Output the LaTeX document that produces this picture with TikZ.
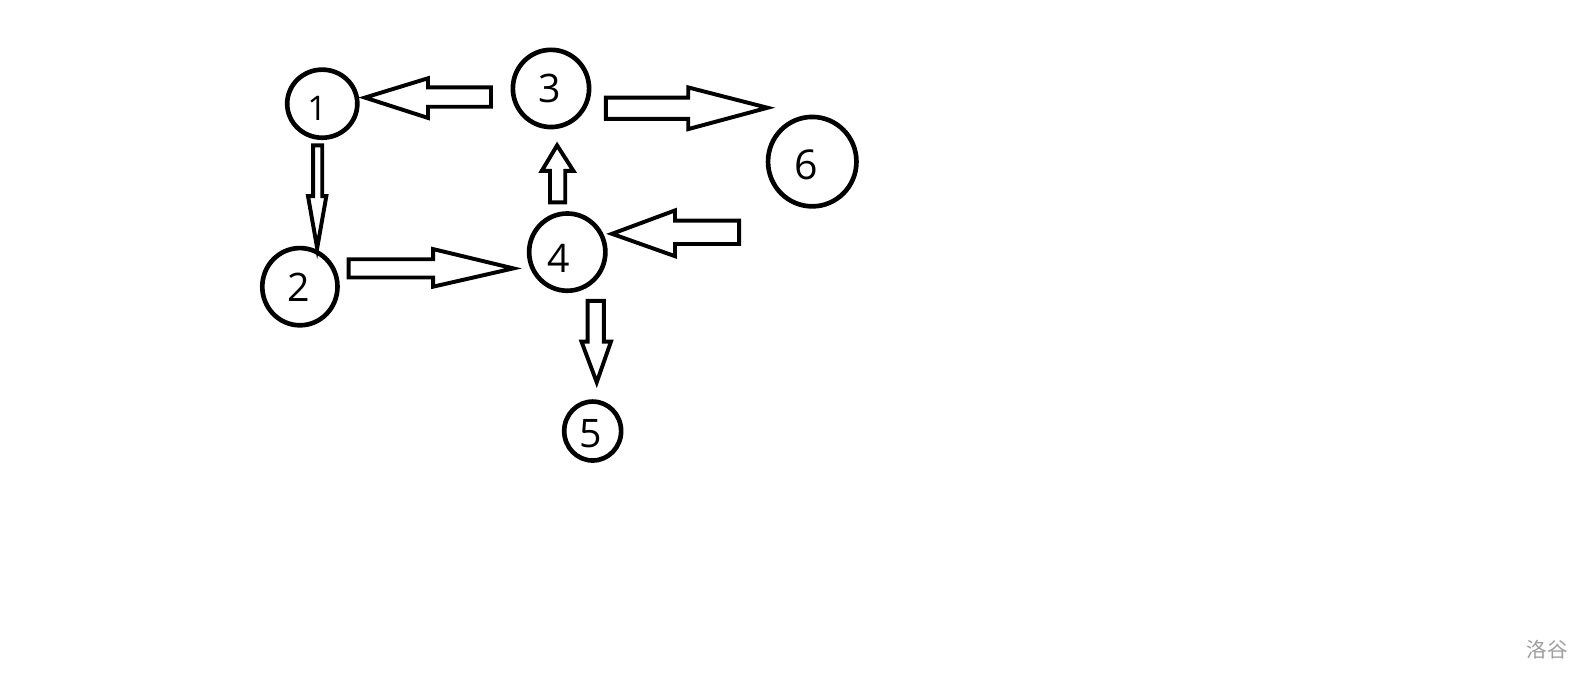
\documentclass[tikz,border=0pt]{standalone}
\usepackage{fontspec}
\setmainfont{Open Sans}
\newfontfamily\cjkfont{Noto Sans CJK SC}
\usetikzlibrary{shapes.geometric}
\tikzset{
  ball/.style={draw=black, line width=2.6pt, ellipse, inner sep=0pt},
  numlabel/.style={font=\fontsize{22}{26}\selectfont, inner sep=0pt, text=black},
  blockarrow/.style={draw=black, line width=2.2pt, line join=miter, fill=white},
}
\begin{document}
\begin{tikzpicture}[x=0.02cm, y=-0.02cm]
\useasboundingbox (0,0) rectangle (1568,673);
% nodes
\node[ball, minimum width=1.38cm, minimum height=1.34cm] (n1) at (317,102) {};
\node[ball, minimum width=1.50cm, minimum height=1.52cm] (n3) at (542,87) {};
\node[ball, minimum width=1.74cm, minimum height=1.76cm] (n6) at (799,159) {};
\node[ball, minimum width=1.48cm, minimum height=1.52cm] (n2) at (295,282) {};
\node[ball, minimum width=1.50cm, minimum height=1.52cm] (n4) at (558,248) {};
\node[ball, minimum width=1.12cm, minimum height=1.16cm] (n5) at (583,424) {};
% labels
\node[numlabel, font=\fontsize{19}{22}\selectfont] (t1) at (312,107) {1};
\node[numlabel] (t3) at (541,87) {3};
\node[numlabel, font=\fontsize{23}{27}\selectfont] (t6) at (793,162) {6};
\node[numlabel] (t2) at (294,283) {2};
\node[numlabel] (t4) at (550,254) {4};
\node[numlabel] (t5) at (581,427) {5};
% block arrows
% 3 -> 1
\draw[blockarrow] (359,96) -- (421,77) -- (421,86) -- (483,86) -- (483,105) -- (421,105) -- (421,116) -- cycle;
% 3 -> 6
\draw[blockarrow] (596,96) -- (677,96) -- (677,86) -- (755,106) -- (677,127) -- (677,117) -- (596,117) -- cycle;
% 4 -> 3
\draw[blockarrow] (548,143) -- (564,168) -- (556,168) -- (556,199) -- (541,199) -- (541,168) -- (533,168) -- cycle;
% 1 -> 2
\draw[blockarrow] (308,143) -- (317,143) -- (317,193) -- (321,193) -- (312,244) -- (303,193) -- (308,193) -- cycle;
% 2 -> 4
\draw[blockarrow] (343,255) -- (426,255) -- (426,245) -- (505,264) -- (426,282) -- (426,273) -- (343,273) -- cycle;
% right -> 4
\draw[blockarrow] (602,230) -- (664,207) -- (664,217) -- (727,217) -- (727,240) -- (664,240) -- (664,252) -- cycle;
% 4 -> 5
\draw[blockarrow] (578,296) -- (594,296) -- (594,336) -- (601,336) -- (587,376) -- (572,336) -- (578,336) -- cycle;
% watermark
\node[text=black!38, font=\cjkfont\fontsize{11.5}{14}\selectfont, inner sep=0pt] (wm) at (1522,639) {洛谷};
\end{tikzpicture}
\end{document}
